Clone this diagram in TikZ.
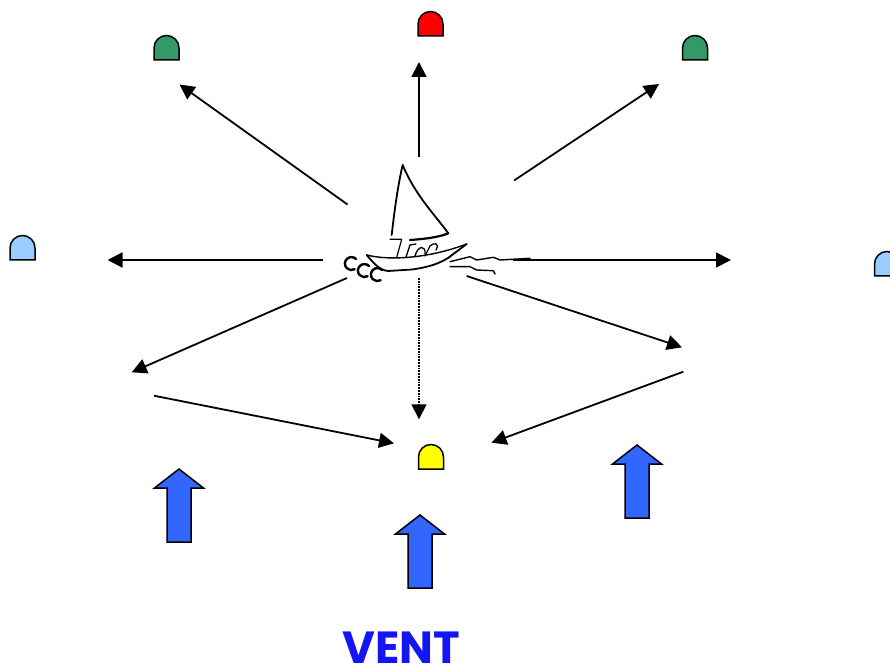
\documentclass[tikz,border=0pt]{standalone}
\usepackage{fontspec}
\newfontfamily\ventfont{Poppins}
\usetikzlibrary{arrows.meta}
\definecolor{buoyred}{RGB}{255,0,0}
\definecolor{buoygreen}{RGB}{51,153,102}
\definecolor{buoyblue}{RGB}{153,204,255}
\definecolor{buoyyellow}{RGB}{255,255,0}
\definecolor{windblue}{RGB}{51,102,255}
\definecolor{ventblue}{RGB}{20,20,245}
\tikzset{buoy/.pic={\path[pic actions] (-12.5,0) -- (-12.5,12)
    arc[start angle=180,end angle=0,radius=12.5] -- (12.5,0) -- cycle;}}
\tikzset{wind/.pic={\path[pic actions] (-12,0) -- (-12,54) -- (-24.5,54)
    -- (0,73) -- (24.5,54) -- (12,54) -- (12,0) -- cycle;}}
\tikzset{course/.style={line width=1.8pt,-{Triangle[length=15pt,width=15pt]}}}
\tikzset{outline/.style={draw,line width=1.5pt,line join=miter}}
\tikzset{boat/.style={line width=1.8pt,line cap=round,line join=round}}

\begin{document}
\begin{tikzpicture}[x=1pt,y=1pt]
  \useasboundingbox (0,0) rectangle (890,670);

  % buoys
  \pic[outline,fill=buoyred] (red) at (430.5,634) {buoy};
  \pic[outline,fill=buoygreen] (greenl) at (166.5,610) {buoy};
  \pic[outline,fill=buoygreen] (greenr) at (695,610) {buoy};
  \pic[outline,fill=buoyblue] (bluel) at (22.5,410) {buoy};
  \pic[outline,fill=buoyblue] (bluer) at (887,394) {buoy};
  \pic[outline,fill=buoyyellow] (yellow) at (431,201) {buoy};

  % the boat
  \draw[boat] (391.7,435) .. controls (395,465) and (399,490) .. (402.7,505);
  \draw[boat] (402.7,505) .. controls (415,475) and (435,455) .. (448.3,436.7);
  \draw[boat,line width=2.2pt] (410,430) .. controls (425,431) and (440,433) .. (448.3,436.7);
  \draw[boat,line width=1.2pt] (390,430.7) -- (401.7,430.7) -- (396.7,412.7);
  \draw[boat,line width=1.4pt] (366.7,415) .. controls (390,409) and (430,412) .. (466.7,426);
  \draw[boat] (366.7,415) .. controls (375,405) and (380,400) .. (388,399)
    -- (412,400.5) .. controls (430,403) and (440,407) .. (448,412) -- (466.7,426);
  \draw[boat,line width=1.3pt] (406,413) -- (410,425) -- (416,426);
  \draw[boat,line width=1.3pt] (415,414) .. controls (418,425) and (426,425) .. (425,416);
  \draw[boat,line width=1.3pt] (425,414) -- (430,424) .. controls (434,428) and (440,427) .. (436,420);
  \draw[boat,line width=2.4pt] (356,411) arc[start angle=45,end angle=300,radius=6.5];
  \draw[boat,line width=2.4pt] (369,404) arc[start angle=45,end angle=300,radius=6.5];
  \draw[boat,line width=2.4pt] (382,400) arc[start angle=45,end angle=300,radius=6.5];
  \draw[boat,line width=1.4pt] (450,408.3) -- (470,413.3) -- (476.7,410) -- (493.3,412.7)
    -- (500,410) -- (530,411.7);
  \draw[boat,line width=1.4pt] (450,403.3) -- (470,403.3) -- (476.7,400) -- (493.3,399.3)
    -- (495,396);

  % courses
  \coordinate (bN) at (419,513);
  \coordinate (bNW) at (347.5,465.5);
  \coordinate (bNE) at (514,489.5);
  \coordinate (bW) at (323,410);
  \coordinate (bE) at (513,410);
  \coordinate (bSW) at (347,392);
  \coordinate (bSE) at (466.7,394);
  \coordinate (bS) at (419,392);
  \coordinate (tN) at (419,608);
  \coordinate (tNW) at (179.5,585.5);
  \coordinate (tNE) at (659,586);
  \coordinate (tW) at (107.5,410);
  \coordinate (tE) at (731,410);
  \coordinate (tSW) at (131.7,297.7);
  \coordinate (tSE) at (682,322.7);
  \coordinate (tS) at (419,250.7);
  \coordinate (lay1) at (154,274.3);
  \coordinate (lay2) at (683.3,298.3);
  \coordinate (mark1) at (394,226.7);
  \coordinate (mark2) at (491.5,227.3);

  \draw[course] (bN)--(tN);
  \draw[course] (bNW)--(tNW);
  \draw[course] (bNE)--(tNE);
  \draw[course] (bW)--(tW);
  \draw[course] (bE)--(tE);
  \draw[course] (bSW)--(tSW);
  \draw[course] (bSE)--(tSE);
  \draw[course,densely dotted,line width=1.5pt] (bS)--(tS);
  \draw[course] (lay1)--(mark1);
  \draw[course] (lay2)--(mark2);

  % wind
  \pic[outline,fill=windblue] (windl) at (179,128) {wind};
  \pic[outline,fill=windblue] (windc) at (420,82) {wind};
  \pic[outline,fill=windblue] (windr) at (637,152) {wind};

  \node[text=ventblue,font=\ventfont\bfseries\fontsize{45}{45}\selectfont,
    inner sep=0pt,anchor=base] (vent) at (401.5,7) {VENT};

\end{tikzpicture}
\end{document}
